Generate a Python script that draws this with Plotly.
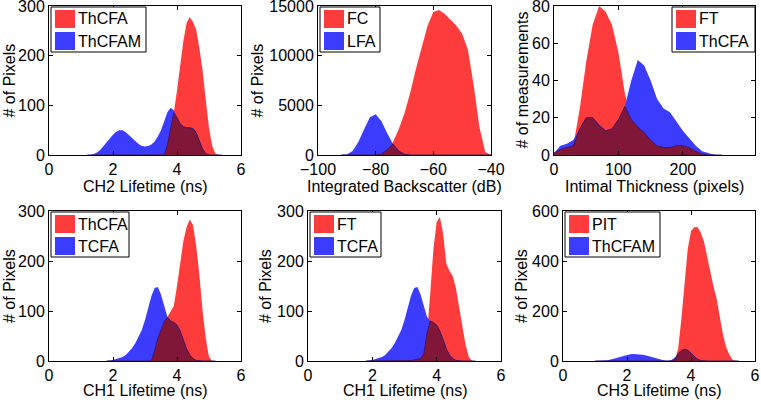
import numpy as np
import plotly.graph_objects as go
from plotly.subplots import make_subplots

# ---- data ----
# CH2 lifetime: ThCFA vs ThCFAM
ch2_x = [1.2, 1.3, 1.4, 1.5, 1.6, 1.7, 1.8, 1.9, 2.0, 2.1, 2.2, 2.3, 2.4, 2.5, 2.6, 2.7,
         2.8, 2.9, 3.0, 3.1, 3.2, 3.3, 3.4, 3.5, 3.6, 3.7, 3.8, 3.9, 4.0, 4.1, 4.2, 4.3,
         4.4, 4.5, 4.6, 4.7, 4.8, 4.9, 5.0, 5.1, 5.2, 5.3, 5.4]
ch2_thcfa = [0, 0, 0, 0, 0, 0, 0, 0, 0, 0, 0, 0, 0, 0, 0, 0, 0, 0, 0, 0, 0, 0, 0, 0, 0,
             20, 50, 85, 130, 180, 230, 266, 278, 268, 252, 215, 170, 110, 55, 18, 3, 0, 0]
ch2_thcfam = [0, 0, 2, 5, 10, 17, 25, 33, 41, 47, 50, 50, 46, 40, 33, 27, 22, 18, 17, 18,
              21, 27, 37, 50, 68, 86, 95, 90, 75, 63, 57, 55, 55, 53, 45, 30, 12, 3, 0, 0,
              0, 0, 0]

# Integrated backscatter: FC vs LFA
ib_x = [-92, -90, -88, -86, -84, -82, -80, -78, -76, -74, -72, -70, -68, -66, -64, -62,
        -60, -58, -56, -54, -52, -50, -48, -46, -44, -42, -40]
ib_fc = [0, 0, 0, 0, 0, 0, 0, 100, 500, 1300, 2600, 4200, 6300, 8700, 11000, 13000,
         14400, 14600, 14200, 13600, 13000, 12200, 10600, 7000, 2800, 300, 0]
ib_lfa = [0, 60, 400, 1300, 2600, 3800, 4100, 3400, 2200, 1100, 400, 80, 0, 0, 0, 0,
          0, 0, 0, 0, 0, 0, 0, 0, 0, 0, 0]

# Intimal thickness: FT vs ThCFA
it_x = [0, 10, 20, 30, 40, 50, 60, 70, 80, 90, 100, 110, 120, 130, 140, 150, 160, 170,
        180, 190, 200, 210, 220, 230, 240, 250, 260]
it_ft = [1, 3, 4, 5, 25, 50, 70, 80, 77, 70, 55, 33, 19, 15, 12, 8, 5, 4, 4, 5, 5, 4,
         2, 0.5, 0, 0, 0]
it_thcfa = [1, 5, 6, 8, 14, 20, 20, 16, 13, 14, 19, 26, 40, 51, 48, 40, 30, 25, 23, 18,
            13, 9, 5, 2, 1, 0, 0]

# CH1 lifetime: ThCFA / FT vs TCFA
ch1_x = [1.8, 1.9, 2.0, 2.1, 2.2, 2.3, 2.4, 2.5, 2.6, 2.7, 2.8, 2.9, 3.0, 3.1, 3.2, 3.3,
         3.4, 3.5, 3.6, 3.7, 3.8, 3.9, 4.0, 4.1, 4.2, 4.3, 4.4, 4.5, 4.6, 4.7, 4.8, 4.9,
         5.0, 5.1, 5.2]
ch1_tcfa = [0, 0.5, 2, 4, 6, 8, 12, 18, 26, 36, 48, 62, 82, 105, 130, 146, 148, 133, 108,
            88, 80, 77, 72, 60, 43, 24, 12, 5, 1, 0, 0, 0, 0, 0, 0]
ch1_thcfa = [0, 0, 0, 0, 0, 0, 0, 0, 0, 0, 0, 0, 0, 0, 0, 20, 45, 62, 78, 88, 98, 110,
             150, 200, 240, 268, 283, 272, 230, 172, 100, 45, 8, 0, 0]
ch1_ft = [0, 0, 0, 0, 0, 0, 0, 0, 0, 0, 0, 0, 0, 0.5, 1, 2, 3, 5, 14, 55, 135, 225, 278,
          288, 255, 195, 180, 170, 145, 110, 72, 32, 8, 0, 0]

# CH3 lifetime: PIT vs ThCFAM
ch3_x = [1.0, 1.1, 1.2, 1.3, 1.4, 1.5, 1.6, 1.7, 1.8, 1.9, 2.0, 2.1, 2.2, 2.3, 2.4, 2.5,
         2.6, 2.7, 2.8, 2.9, 3.0, 3.1, 3.2, 3.3, 3.4, 3.5, 3.6, 3.7, 3.8, 3.9, 4.0, 4.1,
         4.2, 4.3, 4.4, 4.5, 4.6, 4.7, 4.8, 4.9, 5.0, 5.1, 5.2, 5.3, 5.4, 5.5]
ch3_pit = [0, 0, 0, 0, 0, 0, 0, 0, 0, 0, 0, 0, 0, 0, 0, 0, 0, 0, 0, 0, 0, 0, 0, 0, 0,
           5, 50, 170, 310, 450, 520, 535, 536, 515, 480, 420, 352, 300, 250, 180, 105,
           55, 25, 5, 0, 0]
ch3_thcfam = [0, 0, 1, 2, 3.5, 6, 9, 13, 17, 21, 24, 27, 28, 28, 27, 25, 22, 18, 14, 10,
              6, 3, 1, 1, 5, 15, 30, 42, 47, 43, 32, 18, 7, 2, 0, 0, 0, 0, 0, 0, 0, 0,
              0, 0, 0, 0]

W, H = 761, 400
FONT = "Liberation Sans, Arial, sans-serif"
RED = "rgb(255,60,60)"
BLUE = "rgb(60,60,255)"
DARK = "rgb(128,22,56)"

# (x, red, blue, names, xtitle, ytitle, xrange, xticks, yrange, yticks,
#  plot box in px [x0, x1, y0, y1], legend width)
panels = [
    (ch2_x, ch2_thcfa, ch2_thcfam, ("ThCFA", "ThCFAM"), "CH2 Lifetime (ns)", "# of Pixels",
     [0, 6], [0, 2, 4, 6], [0, 300], [0, 100, 200, 300], [49, 241, 6, 155], 95),
    (ib_x, ib_fc, ib_lfa, ("FC", "LFA"), "Integrated Backscatter (dB)", "# of Pixels",
     [-100, -40], [-100, -80, -60, -40], [0, 15000], [0, 5000, 10000, 15000],
     [318, 491, 6, 155], 60),
    (it_x, it_ft, it_thcfa, ("FT", "ThCFA"), "Intimal Thickness (pixels)", "# of measurements",
     [0, 312], [0, 100, 200], [0, 80], [0, 20, 40, 60, 80], [554, 755, 6, 155], 83),
    (ch1_x, ch1_thcfa, ch1_tcfa, ("ThCFA", "TCFA"), "CH1 Lifetime (ns)", "# of Pixels",
     [0, 6], [0, 2, 4, 6], [0, 300], [0, 100, 200, 300], [49, 241, 211, 361], 78),
    (ch1_x, ch1_ft, ch1_tcfa, ("FT", "TCFA"), "CH1 Lifetime (ns)", "# of Pixels",
     [0, 6], [0, 2, 4, 6], [0, 300], [0, 100, 200, 300], [308, 501, 211, 361], 71),
    (ch3_x, ch3_pit, ch3_thcfam, ("PIT", "ThCFAM"), "CH3 Lifetime (ns)", "# of Pixels",
     [0, 6], [0, 2, 4, 6], [0, 600], [0, 200, 400, 600], [563, 755, 211, 361], 95),
]
ytitle_x = [9, 257, 522, 9, 265, 521]


def px(x):
    return x / W


def py(y):
    return 1 - y / H


fig = make_subplots(rows=2, cols=3)
shapes, annotations = [], []

for i, (x, red, blue, names, xt, yt, xr, xtv, yr, ytv, box, lw) in enumerate(panels):
    row, col = i // 3 + 1, i % 3 + 1
    overlap = np.minimum(red, blue)
    fig.add_trace(go.Scatter(x=x, y=red, fill="tozeroy", mode="lines", fillcolor=RED,
                             line=dict(width=0, color=RED), showlegend=False),
                  row=row, col=col)
    fig.add_trace(go.Scatter(x=x, y=blue, fill="tozeroy", mode="lines", fillcolor=BLUE,
                             line=dict(width=0, color=BLUE), showlegend=False),
                  row=row, col=col)
    fig.add_trace(go.Scatter(x=x, y=overlap, fill="tozeroy", mode="lines", fillcolor=DARK,
                             line=dict(width=1, color="rgb(70,20,100)"), showlegend=False),
                  row=row, col=col)

    x0, x1, y0, y1 = box
    axis_style = dict(showline=True, mirror="ticks", linecolor="black", linewidth=1,
                      ticks="inside", ticklen=4, tickcolor="black", showgrid=False,
                      zeroline=False, automargin=False, ticklabeloverflow="allow",
                      tickformat="d",
                      tickfont=dict(family=FONT, size=16, color="black"))
    fig.update_xaxes(domain=[px(x0), px(x1)], range=xr, tickvals=xtv, row=row, col=col,
                     **axis_style)
    fig.update_yaxes(domain=[py(y1), py(y0)], range=yr, tickvals=ytv, row=row, col=col,
                     **axis_style)

    # axis titles
    dy = 31 if row == 1 else 29
    annotations.append(dict(x=px((x0 + x1) / 2), y=py(y1 + dy), xref="paper", yref="paper",
                            text=xt, showarrow=False, xanchor="center", yanchor="middle",
                            font=dict(family=FONT, size=16, color="black")))
    annotations.append(dict(x=px(ytitle_x[i]), y=py((y0 + y1) / 2), xref="paper",
                            yref="paper", text=yt, textangle=-90, showarrow=False,
                            xanchor="center", yanchor="middle",
                            font=dict(family=FONT, size=16, color="black")))

    # legend box, MATLAB style
    lx0 = x1 - lw if i == 2 else x0 + 2
    ly0 = y0 + 1
    shapes.append(dict(type="rect", xref="paper", yref="paper", x0=px(lx0), x1=px(lx0 + lw),
                       y0=py(ly0), y1=py(ly0 + 45), line=dict(color="black", width=1),
                       fillcolor="white", layer="above"))
    for k, (nm, c) in enumerate(zip(names, (RED, BLUE))):
        top = ly0 + 3 + k * 22
        shapes.append(dict(type="rect", xref="paper", yref="paper", x0=px(lx0 + 4),
                           x1=px(lx0 + 24), y0=py(top), y1=py(top + 18),
                           line=dict(width=0), fillcolor=c, layer="above"))
        annotations.append(dict(x=px(lx0 + 25), y=py(top + 9), xref="paper", yref="paper",
                                text=nm, showarrow=False, xanchor="left", yanchor="middle",
                                font=dict(family=FONT, size=16, color="black")))

fig.update_layout(width=W, height=H, margin=dict(l=0, r=0, t=0, b=0, pad=0),
                  paper_bgcolor="white", plot_bgcolor="white",
                  shapes=shapes, annotations=annotations,
                  font=dict(family=FONT, size=16, color="black"))

# page body margin would shift the whole figure by 8px
fig.write_html("out.html", config={"displayModeBar": False},
               post_script="document.body.style.margin='0';")
